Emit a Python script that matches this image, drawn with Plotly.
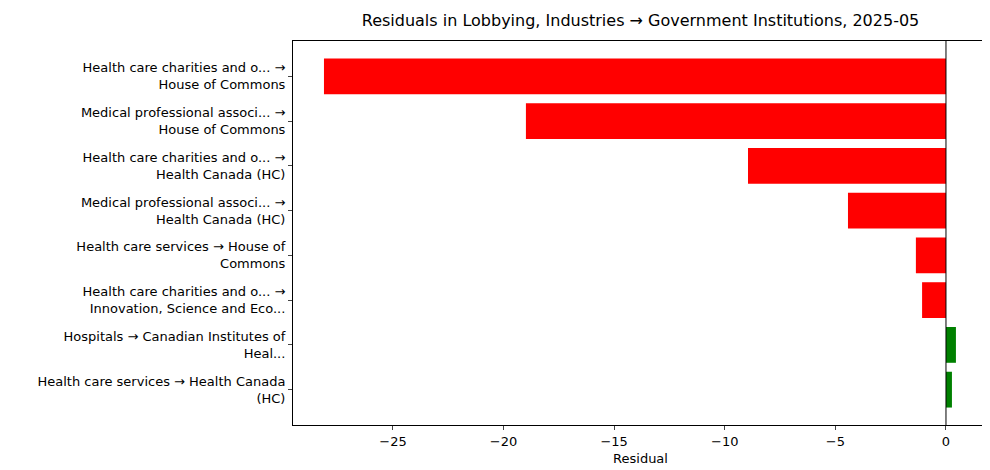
import plotly.graph_objects as go

labels = [
    "Health care charities and o... →<br>House of Commons",
    "Medical professional associ... →<br>House of Commons",
    "Health care charities and o... →<br>Health Canada (HC)",
    "Medical professional associ... →<br>Health Canada (HC)",
    "Health care services → House of<br>Commons",
    "Health care charities and o... →<br>Innovation, Science and Eco...",
    "Hospitals → Canadian Institutes of<br>Heal...",
    "Health care services → Health Canada<br>(HC)",
]
residuals = [-28.12, -18.99, -8.95, -4.43, -1.36, -1.08, 0.45, 0.27]
colors = ["red" if v < 0 else "green" for v in residuals]
pos = list(range(len(labels)))

fig = go.Figure(go.Bar(x=residuals, y=pos, orientation="h", marker_color=colors,
                       marker_line_width=0, width=0.8))
fig.add_vline(x=0, line_color="black", line_width=1)
fig.update_layout(
    width=990, height=470, margin=dict(l=285, r=10, t=33, b=53),
    plot_bgcolor="white", paper_bgcolor="white",
    font=dict(family="DejaVu Sans", size=13, color="black"),
    title=dict(text="Residuals in Lobbying, Industries → Government Institutions, 2025-05",
               x=0.5, xref="paper", xanchor="center", y=1, yref="container", yanchor="top",
               pad=dict(t=7), font=dict(size=16)),
    showlegend=False,
)
fig.update_xaxes(range=[-29.52, 1.9], tickvals=[-25, -20, -15, -10, -5, 0],
                 ticktext=["−25", "−20", "−15", "−10", "−5", "0"],
                 ticks="outside", ticklen=4, showgrid=False, zeroline=False,
                 showline=True, mirror=True, linecolor="black",
                 title=dict(text="Residual", font=dict(size=13), standoff=6))
fig.update_yaxes(range=[7.79, -0.79], tickvals=pos, ticktext=labels,
                 ticks="outside", ticklen=4, showgrid=False, zeroline=False,
                 showline=True, mirror=True, linecolor="black")
fig.write_html("out.html")
